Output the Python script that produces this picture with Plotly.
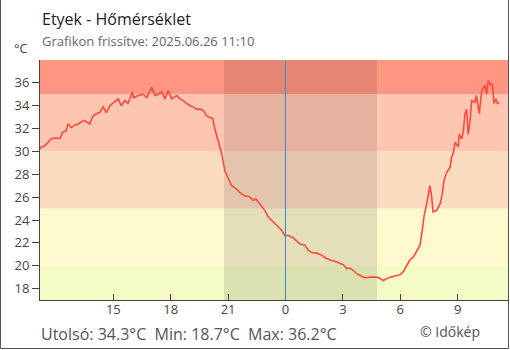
import plotly.graph_objects as go

# ---- data ----
times = [
    "2025-06-25 11:09", "2025-06-25 11:14", "2025-06-25 11:25", "2025-06-25 11:35", "2025-06-25 11:45",
    "2025-06-25 12:01", "2025-06-25 12:12", "2025-06-25 12:22", "2025-06-25 12:32", "2025-06-25 12:38",
    "2025-06-25 12:48", "2025-06-25 12:59", "2025-06-25 13:09", "2025-06-25 13:20", "2025-06-25 13:30",
    "2025-06-25 13:46", "2025-06-25 13:56", "2025-06-25 14:07", "2025-06-25 14:17", "2025-06-25 14:28",
    "2025-06-25 14:38", "2025-06-25 14:49", "2025-06-25 15:04", "2025-06-25 15:15", "2025-06-25 15:25",
    "2025-06-25 15:36", "2025-06-25 15:46", "2025-06-25 16:00", "2025-06-25 16:03", "2025-06-25 16:18",
    "2025-06-25 16:34", "2025-06-25 16:45", "2025-06-25 17:00", "2025-06-25 17:11", "2025-06-25 17:21",
    "2025-06-25 17:32", "2025-06-25 17:42", "2025-06-25 17:52", "2025-06-25 18:03", "2025-06-25 18:19",
    "2025-06-25 18:29", "2025-06-25 18:39", "2025-06-25 18:50", "2025-06-25 19:00", "2025-06-25 19:11",
    "2025-06-25 19:21", "2025-06-25 19:32", "2025-06-25 19:42", "2025-06-25 19:53", "2025-06-25 20:03",
    "2025-06-25 20:12", "2025-06-25 20:19", "2025-06-25 20:29", "2025-06-25 20:40", "2025-06-25 20:50",
    "2025-06-25 21:01", "2025-06-25 21:11", "2025-06-25 21:27", "2025-06-25 21:37", "2025-06-25 21:53",
    "2025-06-25 22:06", "2025-06-25 22:19", "2025-06-25 22:27", "2025-06-25 22:40", "2025-06-25 22:56",
    "2025-06-25 23:06", "2025-06-25 23:17", "2025-06-25 23:32", "2025-06-25 23:48", "2025-06-25 23:58",
    "2025-06-26 00:09", "2025-06-26 00:24", "2025-06-26 00:35", "2025-06-26 00:45", "2025-06-26 01:01",
    "2025-06-26 01:11", "2025-06-26 01:22", "2025-06-26 01:38", "2025-06-26 01:53", "2025-06-26 02:04",
    "2025-06-26 02:20", "2025-06-26 02:35", "2025-06-26 02:51", "2025-06-26 03:01", "2025-06-26 03:12",
    "2025-06-26 03:22", "2025-06-26 03:33", "2025-06-26 03:43", "2025-06-26 03:54", "2025-06-26 04:09",
    "2025-06-26 04:25", "2025-06-26 04:46", "2025-06-26 04:56", "2025-06-26 05:07", "2025-06-26 05:17",
    "2025-06-26 05:28", "2025-06-26 05:43", "2025-06-26 05:59", "2025-06-26 06:09", "2025-06-26 06:18",
    "2025-06-26 06:30", "2025-06-26 06:41", "2025-06-26 06:51", "2025-06-26 07:02", "2025-06-26 07:09",
    "2025-06-26 07:15", "2025-06-26 07:23", "2025-06-26 07:28", "2025-06-26 07:33", "2025-06-26 07:38",
    "2025-06-26 07:43", "2025-06-26 07:54", "2025-06-26 08:05", "2025-06-26 08:12", "2025-06-26 08:17",
    "2025-06-26 08:26", "2025-06-26 08:36", "2025-06-26 08:41", "2025-06-26 08:46", "2025-06-26 08:52",
    "2025-06-26 09:02", "2025-06-26 09:05", "2025-06-26 09:13", "2025-06-26 09:18", "2025-06-26 09:23",
    "2025-06-26 09:28", "2025-06-26 09:33", "2025-06-26 09:39", "2025-06-26 09:44", "2025-06-26 09:54",
    "2025-06-26 09:59", "2025-06-26 10:08", "2025-06-26 10:15", "2025-06-26 10:26", "2025-06-26 10:31",
    "2025-06-26 10:36", "2025-06-26 10:44", "2025-06-26 10:49", "2025-06-26 10:54", "2025-06-26 11:00",
    "2025-06-26 11:05", "2025-06-26 11:10",
]
temps = [
    30.23, 30.37, 30.5, 30.8, 31.1,
    31.2, 31.1, 31.7, 31.8, 32.4,
    32.1, 32.3, 32.4, 32.6, 32.7,
    32.4, 33.1, 33.3, 33.4, 33.9,
    33.4, 34.0, 34.3, 34.6, 34.0,
    34.45, 34.2, 35.2, 34.7, 34.9,
    35.0, 34.7, 35.6, 34.9, 35.0,
    35.2, 34.6, 35.3, 34.6, 34.9,
    34.6, 34.45, 34.2, 34.0, 33.9,
    33.7, 33.7, 33.6, 33.1, 33.0,
    32.85, 31.9, 30.9, 29.8, 28.3,
    27.6, 27.0, 26.7, 26.4, 26.1,
    26.05, 25.7, 25.85, 25.4, 24.8,
    24.25, 23.95, 23.5, 23.1, 22.65,
    22.65, 22.45, 22.2, 21.9, 21.8,
    21.35, 21.15, 21.1, 20.95, 20.7,
    20.5, 20.4, 20.2, 20.1, 19.75,
    19.8, 19.6, 19.3, 19.15, 18.95,
    19.0, 19.0, 18.9, 18.7, 18.85,
    19.0, 19.1, 19.2, 19.45, 19.95,
    20.5, 20.75, 21.2, 21.8, 23.1,
    24.4, 25.4, 26.15, 27.0, 26.15,
    24.7, 24.85, 25.4, 26.3, 27.45,
    28.2, 28.6, 29.5, 29.8, 30.8,
    30.4, 31.5, 31.1, 31.8, 33.3,
    33.7, 31.5, 32.7, 34.45, 34.3,
    34.9, 33.3, 35.2, 35.8, 35.0,
    36.2, 35.8, 35.9, 34.2, 34.6,
    34.2, 34.3,
]

band_edges = [17, 20, 25, 30, 35, 38]
band_colors = ["#f4fbc4", "#fef8cf", "#fcdcc0", "#fec6b1", "#ff9682"]
night_start = "2025-06-25 20:47"
night_end = "2025-06-26 04:47"
midnight = "2025-06-26 00:00"
x_range = ["2025-06-25 11:10", "2025-06-26 11:38"]
x_tickvals = ["2025-06-25 15:00", "2025-06-25 18:00", "2025-06-25 21:00", "2025-06-26 00:00",
              "2025-06-26 03:00", "2025-06-26 06:00", "2025-06-26 09:00"]
x_ticktext = ["15", "18", "21", "0", "3", "6", "9"]
y_range = [17, 38]
y_ticks = [18, 20, 22, 24, 26, 28, 30, 32, 34, 36]

title_text = "Etyek - Hőmérséklet"
subtitle_text = "Grafikon frissítve: 2025.06.26 11:10"
unit_text = "°C"
stats_text = "Utolsó: 34.3°C  Min: 18.7°C  Max: 36.2°C"
credit_text = "© Időkép"

# ---- figure ----
W, H = 510, 350
ML, MR, MT, MB = 40, 2, 60, 50
PW, PH = W - ML - MR, H - MT - MB

def px(x):
    return (x - ML) / PW

def py(y):
    return (H - MB - y) / PH

fig = go.Figure()
fig.add_trace(go.Scatter(
    x=times, y=temps, mode="lines",
    line=dict(color="#ff4a3b", width=1.6),
    hoverinfo="skip", showlegend=False,
))

shapes = []
for i, c in enumerate(band_colors):
    shapes.append(dict(type="rect", xref="paper", yref="y", x0=0, x1=1,
                       y0=band_edges[i], y1=band_edges[i + 1],
                       fillcolor=c, line=dict(width=0), layer="below"))
shapes.append(dict(type="rect", xref="x", yref="paper", x0=night_start, x1=night_end,
                   y0=0, y1=1, fillcolor="rgba(0,0,0,0.1)", line=dict(width=0), layer="below"))
shapes.append(dict(type="line", xref="x", yref="paper", x0=midnight, x1=midnight,
                   y0=0, y1=1, line=dict(color="#3d8ac6", width=1), layer="above"))
# frame of the picture (left, bottom, right)
shapes.append(dict(type="path", xref="paper", yref="paper",
                   path=f"M {px(0.5)} {py(0)} L {px(0.5)} {py(348.5)} L {px(508.5)} {py(348.5)} L {px(508.5)} {py(0)}",
                   line=dict(color="#555555", width=1)))

annotations = [
    dict(text=title_text, x=px(40), y=py(19), xanchor="left", yanchor="middle",
         font=dict(size=16, color="#222222")),
    dict(text=subtitle_text, x=px(40), y=py(41), xanchor="left", yanchor="middle",
         font=dict(size=13, color="#666666")),
    dict(text=unit_text, x=px(12), y=py(48), xanchor="left", yanchor="middle",
         font=dict(size=13, color="#444444")),
    dict(text=stats_text, x=px(39), y=py(334), xanchor="left", yanchor="middle",
         font=dict(size=16, color="#555555")),
    dict(text=credit_text, x=px(482), y=py(331), xanchor="right", yanchor="middle",
         font=dict(size=14, color="#555555")),
]
for a in annotations:
    a.update(xref="paper", yref="paper", showarrow=False)

fig.update_layout(
    width=W, height=H,
    margin=dict(l=ML, r=MR, t=MT, b=MB, pad=0, autoexpand=False),
    paper_bgcolor="white", plot_bgcolor="white",
    font=dict(family="Open Sans", size=13, color="#444444"),
    shapes=shapes, annotations=annotations,
    xaxis=dict(
        type="date", range=x_range, tickvals=x_tickvals, ticktext=x_ticktext,
        ticks="inside", ticklen=6, tickcolor="#444444", tickwidth=1,
        showline=True, linecolor="#444444", linewidth=1,
        showgrid=False, zeroline=False, automargin=False,
        tickfont=dict(size=13, color="#444444"),
        ticklabelstandoff=-3,
    ),
    yaxis=dict(
        range=y_range, tickvals=y_ticks,
        ticks="outside", ticklen=7, tickcolor="#444444", tickwidth=1,
        showline=True, linecolor="#444444", linewidth=1,
        showgrid=False, zeroline=False, automargin=False,
        tickfont=dict(size=13, color="#444444"),
        ticksuffix="\u00a0" * 7,
    ),
    yaxis2=dict(
        range=y_range, tickvals=y_ticks, overlaying="y", side="left",
        ticks="inside", ticklen=7, tickcolor="#444444", tickwidth=1, automargin=False,
        showticklabels=False, showline=False, showgrid=False, zeroline=False,
    ),
)

fig.write_html("out.html")
